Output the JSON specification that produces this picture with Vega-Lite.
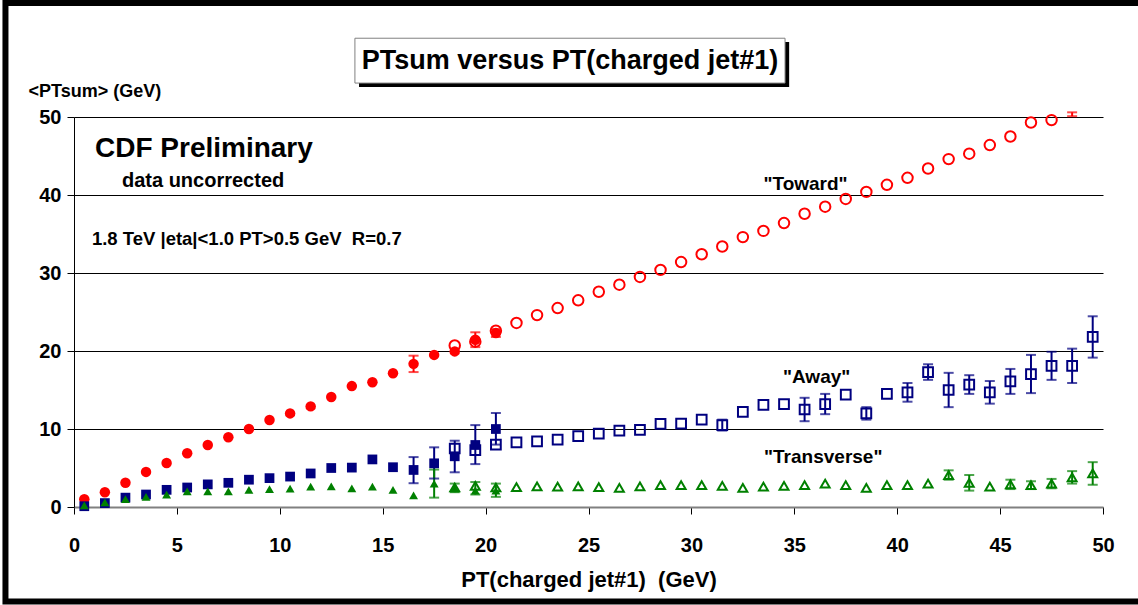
{
  "$schema": "https://vega.github.io/schema/vega-lite/v6.json",
  "width": 1029,
  "height": 390,
  "autosize": {"type": "none"},
  "padding": {"left": 74, "top": 117, "right": 35, "bottom": 98},
  "background": "white",
  "config": {"view": {"stroke": null}, "font": "Liberation Sans"},
  "datasets": {
    "one": [{"k": 1}],
    "pts": [
      {"series": "Toward", "kind": "filled", "x": 0.5, "y": 1.0},
      {"series": "Toward", "kind": "filled", "x": 1.5, "y": 1.9},
      {"series": "Toward", "kind": "filled", "x": 2.5, "y": 3.1},
      {"series": "Toward", "kind": "filled", "x": 3.5, "y": 4.5},
      {"series": "Toward", "kind": "filled", "x": 4.5, "y": 5.65},
      {"series": "Toward", "kind": "filled", "x": 5.5, "y": 6.9},
      {"series": "Toward", "kind": "filled", "x": 6.5, "y": 7.95},
      {"series": "Toward", "kind": "filled", "x": 7.5, "y": 8.95},
      {"series": "Toward", "kind": "filled", "x": 8.5, "y": 10.0},
      {"series": "Toward", "kind": "filled", "x": 9.5, "y": 11.15},
      {"series": "Toward", "kind": "filled", "x": 10.5, "y": 12.0},
      {"series": "Toward", "kind": "filled", "x": 11.5, "y": 12.9},
      {"series": "Toward", "kind": "filled", "x": 12.5, "y": 14.1},
      {"series": "Toward", "kind": "filled", "x": 13.5, "y": 15.5},
      {"series": "Toward", "kind": "filled", "x": 14.5, "y": 16.0},
      {"series": "Toward", "kind": "filled", "x": 15.5, "y": 17.15},
      {"series": "Toward", "kind": "filled", "x": 16.5, "y": 18.35},
      {"series": "Toward", "kind": "filled", "x": 17.5, "y": 19.5},
      {"series": "Toward", "kind": "filled", "x": 18.5, "y": 19.95},
      {"series": "Toward", "kind": "filled", "x": 19.5, "y": 21.45},
      {"series": "Toward", "kind": "filled", "x": 20.5, "y": 22.3},
      {"series": "Toward", "kind": "open", "x": 18.5, "y": 20.7},
      {"series": "Toward", "kind": "open", "x": 19.5, "y": 21.2},
      {"series": "Toward", "kind": "open", "x": 20.5, "y": 22.6},
      {"series": "Toward", "kind": "open", "x": 21.5, "y": 23.6},
      {"series": "Toward", "kind": "open", "x": 22.5, "y": 24.6},
      {"series": "Toward", "kind": "open", "x": 23.5, "y": 25.5},
      {"series": "Toward", "kind": "open", "x": 24.5, "y": 26.5},
      {"series": "Toward", "kind": "open", "x": 25.5, "y": 27.6},
      {"series": "Toward", "kind": "open", "x": 26.5, "y": 28.5},
      {"series": "Toward", "kind": "open", "x": 27.5, "y": 29.5},
      {"series": "Toward", "kind": "open", "x": 28.5, "y": 30.4},
      {"series": "Toward", "kind": "open", "x": 29.5, "y": 31.4},
      {"series": "Toward", "kind": "open", "x": 30.5, "y": 32.4},
      {"series": "Toward", "kind": "open", "x": 31.5, "y": 33.4},
      {"series": "Toward", "kind": "open", "x": 32.5, "y": 34.6},
      {"series": "Toward", "kind": "open", "x": 33.5, "y": 35.4},
      {"series": "Toward", "kind": "open", "x": 34.5, "y": 36.4},
      {"series": "Toward", "kind": "open", "x": 35.5, "y": 37.6},
      {"series": "Toward", "kind": "open", "x": 36.5, "y": 38.5},
      {"series": "Toward", "kind": "open", "x": 37.5, "y": 39.5},
      {"series": "Toward", "kind": "open", "x": 38.5, "y": 40.4},
      {"series": "Toward", "kind": "open", "x": 39.5, "y": 41.3},
      {"series": "Toward", "kind": "open", "x": 40.5, "y": 42.2},
      {"series": "Toward", "kind": "open", "x": 41.5, "y": 43.4},
      {"series": "Toward", "kind": "open", "x": 42.5, "y": 44.6},
      {"series": "Toward", "kind": "open", "x": 43.5, "y": 45.3},
      {"series": "Toward", "kind": "open", "x": 44.5, "y": 46.4},
      {"series": "Toward", "kind": "open", "x": 45.5, "y": 47.5},
      {"series": "Toward", "kind": "open", "x": 46.5, "y": 49.3},
      {"series": "Toward", "kind": "open", "x": 47.5, "y": 49.6},
      {"series": "Away", "kind": "filled", "x": 0.5, "y": 0.1},
      {"series": "Away", "kind": "filled", "x": 1.5, "y": 0.5},
      {"series": "Away", "kind": "filled", "x": 2.5, "y": 1.2},
      {"series": "Away", "kind": "filled", "x": 3.5, "y": 1.6},
      {"series": "Away", "kind": "filled", "x": 4.5, "y": 2.2},
      {"series": "Away", "kind": "filled", "x": 5.5, "y": 2.5},
      {"series": "Away", "kind": "filled", "x": 6.5, "y": 2.9},
      {"series": "Away", "kind": "filled", "x": 7.5, "y": 3.1},
      {"series": "Away", "kind": "filled", "x": 8.5, "y": 3.5},
      {"series": "Away", "kind": "filled", "x": 9.5, "y": 3.7},
      {"series": "Away", "kind": "filled", "x": 10.5, "y": 3.9},
      {"series": "Away", "kind": "filled", "x": 11.5, "y": 4.3},
      {"series": "Away", "kind": "filled", "x": 12.5, "y": 5.0},
      {"series": "Away", "kind": "filled", "x": 13.5, "y": 5.05},
      {"series": "Away", "kind": "filled", "x": 14.5, "y": 6.1},
      {"series": "Away", "kind": "filled", "x": 15.5, "y": 5.1},
      {"series": "Away", "kind": "filled", "x": 16.5, "y": 4.75},
      {"series": "Away", "kind": "filled", "x": 17.5, "y": 5.6},
      {"series": "Away", "kind": "filled", "x": 18.5, "y": 6.5},
      {"series": "Away", "kind": "filled", "x": 19.5, "y": 7.95},
      {"series": "Away", "kind": "filled", "x": 20.5, "y": 10.0},
      {"series": "Away", "kind": "open", "x": 18.5, "y": 7.5},
      {"series": "Away", "kind": "open", "x": 19.5, "y": 7.3},
      {"series": "Away", "kind": "open", "x": 20.5, "y": 8.0},
      {"series": "Away", "kind": "open", "x": 21.5, "y": 8.3},
      {"series": "Away", "kind": "open", "x": 22.5, "y": 8.4},
      {"series": "Away", "kind": "open", "x": 23.5, "y": 8.65},
      {"series": "Away", "kind": "open", "x": 24.5, "y": 9.1},
      {"series": "Away", "kind": "open", "x": 25.5, "y": 9.4},
      {"series": "Away", "kind": "open", "x": 26.5, "y": 9.8},
      {"series": "Away", "kind": "open", "x": 27.5, "y": 9.9},
      {"series": "Away", "kind": "open", "x": 28.5, "y": 10.65},
      {"series": "Away", "kind": "open", "x": 29.5, "y": 10.7},
      {"series": "Away", "kind": "open", "x": 30.5, "y": 11.2},
      {"series": "Away", "kind": "open", "x": 31.5, "y": 10.5},
      {"series": "Away", "kind": "open", "x": 32.5, "y": 12.2},
      {"series": "Away", "kind": "open", "x": 33.5, "y": 13.1},
      {"series": "Away", "kind": "open", "x": 34.5, "y": 13.2},
      {"series": "Away", "kind": "open", "x": 35.5, "y": 12.5},
      {"series": "Away", "kind": "open", "x": 36.5, "y": 13.2},
      {"series": "Away", "kind": "open", "x": 37.5, "y": 14.4},
      {"series": "Away", "kind": "open", "x": 38.5, "y": 12.0},
      {"series": "Away", "kind": "open", "x": 39.5, "y": 14.5},
      {"series": "Away", "kind": "open", "x": 40.5, "y": 14.7},
      {"series": "Away", "kind": "open", "x": 41.5, "y": 17.3},
      {"series": "Away", "kind": "open", "x": 42.5, "y": 15.0},
      {"series": "Away", "kind": "open", "x": 43.5, "y": 15.7},
      {"series": "Away", "kind": "open", "x": 44.5, "y": 14.7},
      {"series": "Away", "kind": "open", "x": 45.5, "y": 16.1},
      {"series": "Away", "kind": "open", "x": 46.5, "y": 17.05},
      {"series": "Away", "kind": "open", "x": 47.5, "y": 18.1},
      {"series": "Away", "kind": "open", "x": 48.5, "y": 18.1},
      {"series": "Away", "kind": "open", "x": 49.5, "y": 21.8},
      {"series": "Transverse", "kind": "filled", "x": 0.5, "y": 0.2},
      {"series": "Transverse", "kind": "filled", "x": 1.5, "y": 0.6},
      {"series": "Transverse", "kind": "filled", "x": 2.5, "y": 1.0},
      {"series": "Transverse", "kind": "filled", "x": 3.5, "y": 1.3},
      {"series": "Transverse", "kind": "filled", "x": 4.5, "y": 1.6},
      {"series": "Transverse", "kind": "filled", "x": 5.5, "y": 2.0},
      {"series": "Transverse", "kind": "filled", "x": 6.5, "y": 2.0},
      {"series": "Transverse", "kind": "filled", "x": 7.5, "y": 2.0},
      {"series": "Transverse", "kind": "filled", "x": 8.5, "y": 2.2},
      {"series": "Transverse", "kind": "filled", "x": 9.5, "y": 2.3},
      {"series": "Transverse", "kind": "filled", "x": 10.5, "y": 2.35},
      {"series": "Transverse", "kind": "filled", "x": 11.5, "y": 2.6},
      {"series": "Transverse", "kind": "filled", "x": 12.5, "y": 2.65},
      {"series": "Transverse", "kind": "filled", "x": 13.5, "y": 2.4},
      {"series": "Transverse", "kind": "filled", "x": 14.5, "y": 2.6},
      {"series": "Transverse", "kind": "filled", "x": 15.5, "y": 2.2},
      {"series": "Transverse", "kind": "filled", "x": 16.5, "y": 1.5},
      {"series": "Transverse", "kind": "filled", "x": 17.5, "y": 3.0},
      {"series": "Transverse", "kind": "filled", "x": 18.5, "y": 2.4},
      {"series": "Transverse", "kind": "filled", "x": 19.5, "y": 2.1},
      {"series": "Transverse", "kind": "filled", "x": 20.5, "y": 2.1},
      {"series": "Transverse", "kind": "open", "x": 18.5, "y": 2.5},
      {"series": "Transverse", "kind": "open", "x": 19.5, "y": 2.7},
      {"series": "Transverse", "kind": "open", "x": 20.5, "y": 2.5},
      {"series": "Transverse", "kind": "open", "x": 21.5, "y": 2.55},
      {"series": "Transverse", "kind": "open", "x": 22.5, "y": 2.65},
      {"series": "Transverse", "kind": "open", "x": 23.5, "y": 2.6},
      {"series": "Transverse", "kind": "open", "x": 24.5, "y": 2.65},
      {"series": "Transverse", "kind": "open", "x": 25.5, "y": 2.55},
      {"series": "Transverse", "kind": "open", "x": 26.5, "y": 2.45},
      {"series": "Transverse", "kind": "open", "x": 27.5, "y": 2.65},
      {"series": "Transverse", "kind": "open", "x": 28.5, "y": 2.8},
      {"series": "Transverse", "kind": "open", "x": 29.5, "y": 2.8},
      {"series": "Transverse", "kind": "open", "x": 30.5, "y": 2.8},
      {"series": "Transverse", "kind": "open", "x": 31.5, "y": 2.7},
      {"series": "Transverse", "kind": "open", "x": 32.5, "y": 2.45},
      {"series": "Transverse", "kind": "open", "x": 33.5, "y": 2.6},
      {"series": "Transverse", "kind": "open", "x": 34.5, "y": 2.7},
      {"series": "Transverse", "kind": "open", "x": 35.5, "y": 2.8},
      {"series": "Transverse", "kind": "open", "x": 36.5, "y": 3.0},
      {"series": "Transverse", "kind": "open", "x": 37.5, "y": 2.8},
      {"series": "Transverse", "kind": "open", "x": 38.5, "y": 2.45},
      {"series": "Transverse", "kind": "open", "x": 39.5, "y": 2.8},
      {"series": "Transverse", "kind": "open", "x": 40.5, "y": 2.8},
      {"series": "Transverse", "kind": "open", "x": 41.5, "y": 3.0},
      {"series": "Transverse", "kind": "open", "x": 42.5, "y": 4.1},
      {"series": "Transverse", "kind": "open", "x": 43.5, "y": 3.1},
      {"series": "Transverse", "kind": "open", "x": 44.5, "y": 2.6},
      {"series": "Transverse", "kind": "open", "x": 45.5, "y": 2.9},
      {"series": "Transverse", "kind": "open", "x": 46.5, "y": 2.8},
      {"series": "Transverse", "kind": "open", "x": 47.5, "y": 3.0},
      {"series": "Transverse", "kind": "open", "x": 48.5, "y": 3.8},
      {"series": "Transverse", "kind": "open", "x": 49.5, "y": 4.3}
    ],
    "errs": [
      {"series": "Toward", "x": 16.5, "lo": 17.3, "hi": 19.4},
      {"series": "Toward", "x": 19.5, "lo": 20.5, "hi": 22.4},
      {"series": "Toward", "x": 20.5, "lo": 21.8, "hi": 22.8},
      {"series": "Toward", "x": 48.5, "lo": 50.1, "hi": 50.6},
      {"series": "Away", "x": 16.5, "lo": 3.05, "hi": 6.4},
      {"series": "Away", "x": 17.5, "lo": 3.65, "hi": 7.65},
      {"series": "Away", "x": 18.5, "lo": 4.45, "hi": 8.5},
      {"series": "Away", "x": 19.5, "lo": 5.5, "hi": 10.5},
      {"series": "Away", "x": 20.5, "lo": 8.0, "hi": 12.05},
      {"series": "Away", "x": 31.5, "lo": 9.8, "hi": 11.2},
      {"series": "Away", "x": 35.5, "lo": 11.0, "hi": 14.0},
      {"series": "Away", "x": 36.5, "lo": 11.9, "hi": 14.5},
      {"series": "Away", "x": 38.5, "lo": 11.2, "hi": 12.8},
      {"series": "Away", "x": 40.5, "lo": 13.5, "hi": 15.9},
      {"series": "Away", "x": 41.5, "lo": 16.3, "hi": 18.3},
      {"series": "Away", "x": 42.5, "lo": 12.8, "hi": 17.2},
      {"series": "Away", "x": 43.5, "lo": 14.5, "hi": 16.9},
      {"series": "Away", "x": 44.5, "lo": 13.25, "hi": 16.15},
      {"series": "Away", "x": 45.5, "lo": 14.5, "hi": 17.7},
      {"series": "Away", "x": 46.5, "lo": 14.6, "hi": 19.5},
      {"series": "Away", "x": 47.5, "lo": 16.3, "hi": 19.9},
      {"series": "Away", "x": 48.5, "lo": 15.9, "hi": 20.3},
      {"series": "Away", "x": 49.5, "lo": 19.15, "hi": 24.45},
      {"series": "Transverse", "x": 17.5, "lo": 1.2, "hi": 4.8},
      {"series": "Transverse", "x": 18.5, "lo": 1.9, "hi": 3.0},
      {"series": "Transverse", "x": 19.5, "lo": 1.6, "hi": 3.2},
      {"series": "Transverse", "x": 20.5, "lo": 1.3, "hi": 3.0},
      {"series": "Transverse", "x": 42.5, "lo": 3.5, "hi": 4.7},
      {"series": "Transverse", "x": 43.5, "lo": 2.1, "hi": 4.1},
      {"series": "Transverse", "x": 45.5, "lo": 2.3, "hi": 3.5},
      {"series": "Transverse", "x": 46.5, "lo": 2.3, "hi": 3.3},
      {"series": "Transverse", "x": 47.5, "lo": 2.4, "hi": 3.6},
      {"series": "Transverse", "x": 48.5, "lo": 3.0, "hi": 4.6},
      {"series": "Transverse", "x": 49.5, "lo": 2.85, "hi": 5.75}
    ]
  },
  "layer": [
    {
      "data": {"name": "one"},
      "mark": {"type": "rect", "fill": null, "stroke": "black", "strokeWidth": 6, "clip": false},
      "encoding": {
        "x": {"datum": -3.33, "type": "quantitative", "scale": {"domain": [0, 50], "nice": false}},
        "x2": {"datum": 52.3},
        "y": {"datum": 64.6, "type": "quantitative", "scale": {"domain": [0, 50], "nice": false}},
        "y2": {"datum": -12.1}
      }
    },
    {
      "data": {"name": "pts"},
      "mark": {"type": "point", "opacity": 0},
      "encoding": {
        "x": {
          "field": "x", "type": "quantitative",
          "scale": {"domain": [0, 50], "nice": false},
          "axis": {
            "values": [0, 5, 10, 15, 20, 25, 30, 35, 40, 45, 50],
            "grid": false,
            "domainColor": "#808080", "domainWidth": 2,
            "tickColor": "black", "tickSize": 7,
            "labelFont": "Liberation Sans", "labelFontSize": 20, "labelFontWeight": "bold", "labelColor": "black",
            "labelPadding": 21, "labelFlush": false,
            "title": "PT(charged jet#1) \u00a0(GeV)",
            "titleFont": "Liberation Sans", "titleFontSize": 22, "titleFontWeight": "bold", "titleColor": "black",
            "titleY": 62
          }
        },
        "y": {
          "field": "y", "type": "quantitative",
          "scale": {"domain": [0, 50], "nice": false},
          "axis": {
            "values": [0, 10, 20, 30, 40, 50],
            "grid": true,
            "gridColor": {"condition": {"test": "datum.value === 0", "value": "#808080"}, "value": "black"},
            "gridWidth": 1, "gridOpacity": 1,
            "domainColor": "black", "domainWidth": 1,
            "tickColor": "black", "tickSize": 7,
            "labelFont": "Liberation Sans", "labelFontSize": 20, "labelFontWeight": "bold", "labelColor": "black",
            "labelPadding": 6,
            "title": "<PTsum> (GeV)",
            "titleFont": "Liberation Sans", "titleFontSize": 18, "titleFontWeight": "bold", "titleColor": "black",
            "titleAngle": 0, "titleAlign": "left", "titleBaseline": "top",
            "titleX": -46, "titleY": -35
          }
        }
      }
    },
    {
      "data": {"name": "errs"},
      "mark": {"type": "rule", "strokeWidth": 2},
      "encoding": {
        "x": {"field": "x", "type": "quantitative"},
        "y": {"field": "lo", "type": "quantitative"},
        "y2": {"field": "hi"},
        "color": {"field": "series", "type": "nominal", "scale": {"domain": ["Toward", "Away", "Transverse"], "range": ["#FF0000", "#000080", "#008000"]}, "legend": null}
      }
    },
    {
      "data": {"name": "errs"},
      "mark": {"type": "tick", "orient": "horizontal", "size": 10, "thickness": 2},
      "encoding": {
        "x": {"field": "x", "type": "quantitative"},
        "y": {"field": "lo", "type": "quantitative"},
        "color": {"field": "series", "type": "nominal", "legend": null}
      }
    },
    {
      "data": {"name": "errs"},
      "mark": {"type": "tick", "orient": "horizontal", "size": 10, "thickness": 2},
      "encoding": {
        "x": {"field": "x", "type": "quantitative"},
        "y": {"field": "hi", "type": "quantitative"},
        "color": {"field": "series", "type": "nominal", "legend": null}
      }
    },
    {
      "data": {"name": "pts"},
      "transform": [{"filter": "datum.kind === 'open'"}],
      "mark": {"type": "point", "filled": false, "strokeWidth": 2, "opacity": 1},
      "encoding": {
        "x": {"field": "x", "type": "quantitative"},
        "y": {"field": "y", "type": "quantitative"},
        "shape": {"field": "series", "type": "nominal", "scale": {"domain": ["Toward", "Away", "Transverse"], "range": ["circle", "square", "triangle-up"]}, "legend": null},
        "size": {"field": "series", "type": "nominal", "scale": {"domain": ["Toward", "Away", "Transverse"], "range": [110, 80, 95]}, "legend": null},
        "color": {"field": "series", "type": "nominal", "legend": null}
      }
    },
    {
      "data": {"name": "pts"},
      "transform": [{"filter": "datum.kind === 'filled'"}],
      "mark": {"type": "point", "filled": true, "opacity": 1},
      "encoding": {
        "x": {"field": "x", "type": "quantitative"},
        "y": {"field": "y", "type": "quantitative"},
        "shape": {"field": "series", "type": "nominal", "legend": null},
        "size": {"field": "series", "type": "nominal", "scale": {"domain": ["Toward", "Away", "Transverse"], "range": [160, 130, 140]}, "legend": null},
        "color": {"field": "series", "type": "nominal", "legend": null}
      }
    },
    {
      "data": {"name": "one"},
      "mark": {"type": "rect", "fill": "black", "clip": false},
      "encoding": {
        "x": {"datum": 13.85, "type": "quantitative"},
        "x2": {"datum": 34.75},
        "y": {"datum": 59.6, "type": "quantitative"},
        "y2": {"datum": 53.85}
      }
    },
    {
      "data": {"name": "one"},
      "mark": {"type": "rect", "fill": "white", "stroke": "#808080", "strokeWidth": 1, "clip": false},
      "encoding": {
        "x": {"datum": 13.65, "type": "quantitative"},
        "x2": {"datum": 34.55},
        "y": {"datum": 60.1, "type": "quantitative"},
        "y2": {"datum": 54.35}
      }
    },
    {
      "data": {"name": "one"},
      "mark": {"type": "text", "text": "PTsum versus PT(charged jet#1)", "font": "Liberation Sans", "fontSize": 27, "fontWeight": "bold", "color": "black", "align": "center", "baseline": "middle"},
      "encoding": {
        "x": {"datum": 24.1, "type": "quantitative"},
        "y": {"datum": 57.2, "type": "quantitative"}
      }
    },
    {
      "data": {"name": "one"},
      "mark": {"type": "text", "text": "CDF Preliminary", "font": "Liberation Sans", "fontSize": 28, "fontWeight": "bold", "color": "black", "align": "left", "baseline": "middle"},
      "encoding": {
        "x": {"datum": 1.02, "type": "quantitative"},
        "y": {"datum": 45.9, "type": "quantitative"}
      }
    },
    {
      "data": {"name": "one"},
      "mark": {"type": "text", "text": "data uncorrected", "font": "Liberation Sans", "fontSize": 20, "fontWeight": "bold", "color": "black", "align": "left", "baseline": "middle"},
      "encoding": {
        "x": {"datum": 2.33, "type": "quantitative"},
        "y": {"datum": 41.8, "type": "quantitative"}
      }
    },
    {
      "data": {"name": "one"},
      "mark": {"type": "text", "text": "1.8 TeV |eta|<1.0 PT>0.5 GeV \u00a0R=0.7", "font": "Liberation Sans", "fontSize": 18.5, "fontWeight": "bold", "color": "black", "align": "left", "baseline": "middle"},
      "encoding": {
        "x": {"datum": 0.87, "type": "quantitative"},
        "y": {"datum": 34.4, "type": "quantitative"}
      }
    },
    {
      "data": {"name": "one"},
      "mark": {"type": "text", "text": "\"Toward\"", "font": "Liberation Sans", "fontSize": 19, "fontWeight": "bold", "color": "black", "align": "left", "baseline": "middle"},
      "encoding": {
        "x": {"datum": 33.5, "type": "quantitative"},
        "y": {"datum": 41.4, "type": "quantitative"}
      }
    },
    {
      "data": {"name": "one"},
      "mark": {"type": "text", "text": "\"Away\"", "font": "Liberation Sans", "fontSize": 19, "fontWeight": "bold", "color": "black", "align": "left", "baseline": "middle"},
      "encoding": {
        "x": {"datum": 34.45, "type": "quantitative"},
        "y": {"datum": 16.7, "type": "quantitative"}
      }
    },
    {
      "data": {"name": "one"},
      "mark": {"type": "text", "text": "\"Transverse\"", "font": "Liberation Sans", "fontSize": 19, "fontWeight": "bold", "color": "black", "align": "left", "baseline": "middle"},
      "encoding": {
        "x": {"datum": 33.53, "type": "quantitative"},
        "y": {"datum": 6.47, "type": "quantitative"}
      }
    }
  ]
}
